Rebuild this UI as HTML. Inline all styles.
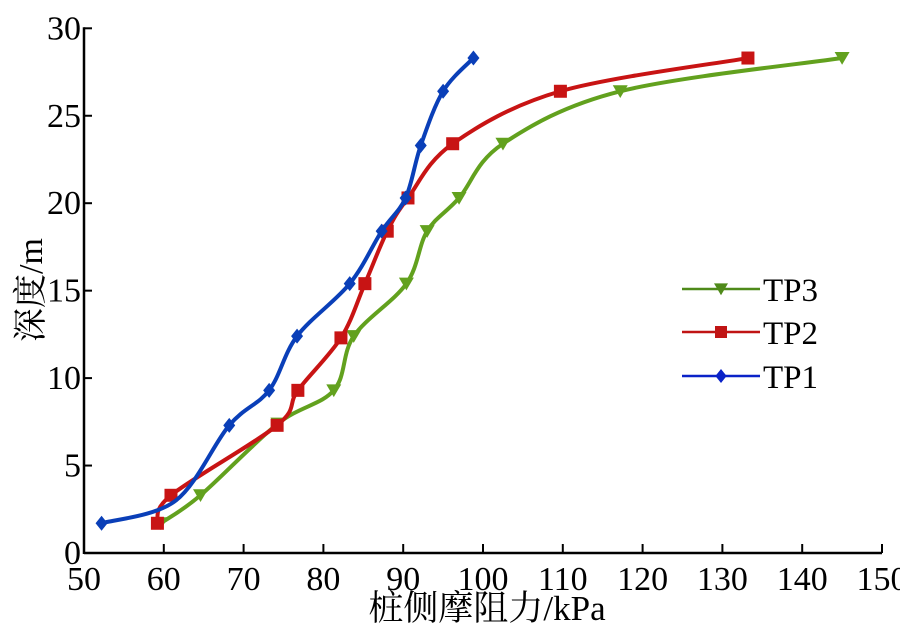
<!DOCTYPE html>
<html><head><meta charset="utf-8"><style>
html,body{margin:0;padding:0;background:#fff;}
svg{display:block;}
text{font-family:"Liberation Serif","Noto Serif CJK SC",serif;}
</style></head><body>
<svg id="chart" width="900" height="634" viewBox="0 0 900 634" xmlns="http://www.w3.org/2000/svg">
<g id="axes"></g>
<g id="series"></g>
<g id="legend"></g>
<text x="487" y="620" font-size="35" text-anchor="middle" style="font-family:'Liberation Serif','Noto Serif CJK SC',serif">桩侧摩阻力/kPa</text>
<text transform="translate(42,290) rotate(-90)" font-size="34" text-anchor="middle" style="font-family:'Liberation Serif','Noto Serif CJK SC',serif">深度/m</text>
</svg>
<script>
const xTicks = [50,60,70,80,90,100,110,120,130,140,150];
const yTicks = [0,5,10,15,20,25,30];
const tp1X = [52.2,61.5,68.2,73.2,76.7,83.3,87.3,90.3,92.2,95.0,98.8];
const tp1Y = [1.7,3.0,7.3,9.3,12.4,15.4,18.4,20.3,23.3,26.4,28.3];
const tp2X = [59.2,60.9,74.2,76.8,82.2,85.2,88.0,90.6,96.2,109.7,133.2];
const tp2Y = [1.7,3.3,7.3,9.3,12.3,15.4,18.4,20.3,23.4,26.4,28.3];
const tp3X = [59.6,64.6,74.3,81.3,83.8,90.4,93.0,97.0,102.5,117.2,145.0];
const tp3Y = [1.7,3.3,7.4,9.3,12.4,15.4,18.4,20.3,23.4,26.4,28.3];
const seriesNames = ["TP3","TP2","TP1"];

const NS="http://www.w3.org/2000/svg";
const FONT="'Liberation Serif','Noto Serif CJK SC',serif";
function X(v){return 84+(v-50)*7.98;}
function Y(v){return 553-v*17.49;}
function mk(tag,attrs,parent){const e=document.createElementNS(NS,tag);for(const k in attrs)e.setAttribute(k,attrs[k]);parent.appendChild(e);return e;}
const axes=document.getElementById('axes');
let e=mk('line',{x1:X(50),y1:Y(0),x2:X(150),y2:Y(0),stroke:'#000','stroke-width':2.5},axes);


e=mk('line',{x1:X(50),y1:Y(0)+1,x2:X(50),y2:Y(30)-1,stroke:'#000','stroke-width':2.5},axes);


xTicks.forEach(t=>{
  const l=mk('line',{x1:X(t),y1:Y(0),x2:X(t),y2:Y(0)-9,stroke:'#000','stroke-width':2},axes);
  
  
  const tx=mk('text',{x:X(t),y:590,'font-size':34,'text-anchor':'middle',style:'font-family:'+FONT},axes);tx.textContent=t;
  
  
});
yTicks.forEach(t=>{
  const l=mk('line',{x1:X(50),y1:Y(t),x2:X(50)+8,y2:Y(t),stroke:'#000','stroke-width':2},axes);
  
  
  const tx=mk('text',{x:X(50)-3,y:Y(t)+11,'font-size':34,'text-anchor':'end',style:'font-family:'+FONT},axes);tx.textContent=t;
  
  
});
function smooth(px,py){
  let d='M'+px[0]+','+py[0];
  for(let i=0;i<px.length-1;i++){
    const i0=Math.max(0,i-1),i3=Math.min(px.length-1,i+2);
    const c1x=px[i]+(px[i+1]-px[i0])/6,c1y=py[i]+(py[i+1]-py[i0])/6;
    const c2x=px[i+1]-(px[i3]-px[i])/6,c2y=py[i+1]-(py[i3]-py[i])/6;
    d+=' C'+c1x+','+c1y+' '+c2x+','+c2y+' '+px[i+1]+','+py[i+1];
  }
  return d;
}
function marker(type,x,y,color,parent,s){
  let m;
  if(type==='tri') m=mk('polygon',{points:`${x-s},${y-s*0.8} ${x+s},${y-s*0.8} ${x},${y+s*0.9}`,fill:color},parent);
  else if(type==='sq') m=mk('rect',{x:x-s,y:y-s,width:2*s,height:2*s,fill:color},parent);
  else m=mk('polygon',{points:`${x},${y-s} ${x+s*0.8},${y} ${x},${y+s} ${x-s*0.8},${y}`,fill:color},parent);
  return m;
}
const ser=document.getElementById('series');
const defs=[
  {name:'TP3',xs:tp3X,ys:tp3Y,color:'#62a11e',mk:'tri'},
  {name:'TP2',xs:tp2X,ys:tp2Y,color:'#c81414',mk:'sq'},
  {name:'TP1',xs:tp1X,ys:tp1Y,color:'#0a3fb8',mk:'dia'}
];
defs.forEach(s=>{
  const g=mk('g',{},ser);
  
  
  const px=s.xs.map(X),py=s.ys.map(Y);
  const p=mk('path',{d:smooth(px,py),fill:'none',stroke:s.color,'stroke-width':4},g);
  
  
  px.forEach((x,i)=>{
    if(s.name==='TP1'&&i===1)return;
    const m=marker(s.mk,x,py[i],s.color,g,s.mk==='sq'?6.5:7.5);
    
    
  });
});
const leg=document.getElementById('legend');
const legY=[289,332,376];
const legColors=['#4f8a1a','#c01414','#0a22c8'];
const legMk=['tri','sq','dia'];
seriesNames.forEach((n,i)=>{
  const g=mk('g',{},leg);
  
  
  mk('line',{x1:682,y1:legY[i],x2:760,y2:legY[i],stroke:legColors[i],'stroke-width':2.5},g);
  marker(legMk[i],721,legY[i],legColors[i],g,legMk[i]==='sq'?6:7);
  const t=mk('text',{x:763,y:legY[i]+12,'font-size':33,style:'font-family:'+FONT},g);t.textContent=n;
});
</script>
</body></html>
